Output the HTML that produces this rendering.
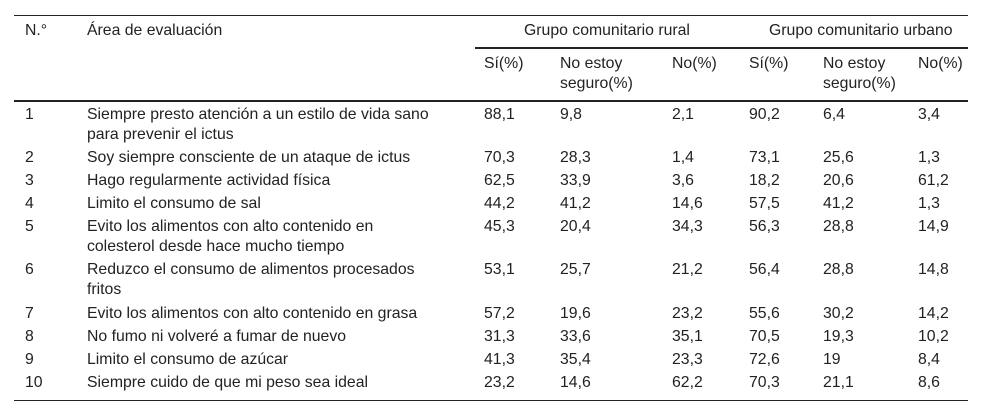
<!DOCTYPE html>
<html><head><meta charset="utf-8"><style>
body{margin:0;width:1000px;height:417px;background:#fff;font-family:"Liberation Sans",Arial,sans-serif;font-size:15.8px;color:#222;position:relative;overflow:hidden}
.t{position:absolute;line-height:20px;white-space:nowrap}
.l{position:absolute;background:#222}
</style></head><body>
<div class="l" style="left:14px;top:15px;width:954px;height:1px"></div>
<div class="l" style="left:475px;top:47px;width:493px;height:2px"></div>
<div class="l" style="left:14px;top:100px;width:954px;height:2px"></div>
<div class="l" style="left:14px;top:400px;width:954px;height:1px"></div>
<div class="t" style="left:25px;top:21px">N.°</div>
<div class="t" style="left:87px;top:21px">Área de evaluación</div>
<div class="t" style="left:524px;top:21px">Grupo comunitario rural</div>
<div class="t" style="left:769px;top:21px">Grupo comunitario urbano</div>
<script>
const cols=[484,560,672,749,823,918];
const sub=["Sí(%)","No estoy<br>seguro(%)","No(%)","Sí(%)","No estoy<br>seguro(%)","No(%)"];
const items=["Siempre presto atención a un estilo de vida sano<br>para prevenir el ictus","Soy siempre consciente de un ataque de ictus","Hago regularmente actividad física","Limito el consumo de sal","Evito los alimentos con alto contenido en<br>colesterol desde hace mucho tiempo","Reduzco el consumo de alimentos procesados<br>fritos","Evito los alimentos con alto contenido en grasa","No fumo ni volveré a fumar de nuevo","Limito el consumo de azúcar","Siempre cuido de que mi peso sea ideal"];
const vals=[["88,1","9,8","2,1","90,2","6,4","3,4"],["70,3","28,3","1,4","73,1","25,6","1,3"],["62,5","33,9","3,6","18,2","20,6","61,2"],["44,2","41,2","14,6","57,5","41,2","1,3"],["45,3","20,4","34,3","56,3","28,8","14,9"],["53,1","25,7","21,2","56,4","28,8","14,8"],["57,2","19,6","23,2","55,6","30,2","14,2"],["31,3","33,6","35,1","70,5","19,3","10,2"],["41,3","35,4","23,3","72,6","19","8,4"],["23,2","14,6","62,2","70,3","21,1","8,6"]];
const tops=[105,148,171,194,217,260,304,327,350,373];
const body=document.body;
function mk(x,y,h,name){const d=document.createElement('div');d.className='t';d.style.left=x+'px';d.style.top=y+'px';d.innerHTML=h;


body.appendChild(d);}
sub.forEach((s,i)=>mk(cols[i],54,s,'subheader-'+i));
items.forEach((it,r)=>{mk(25,tops[r],String(r+1),'row-number-'+(r+1));mk(87,tops[r],it,'row-area-'+(r+1));vals[r].forEach((v,c)=>mk(cols[c],tops[r],v,'cell-'+(r+1)+'-'+c));});
</script>
</body></html>
